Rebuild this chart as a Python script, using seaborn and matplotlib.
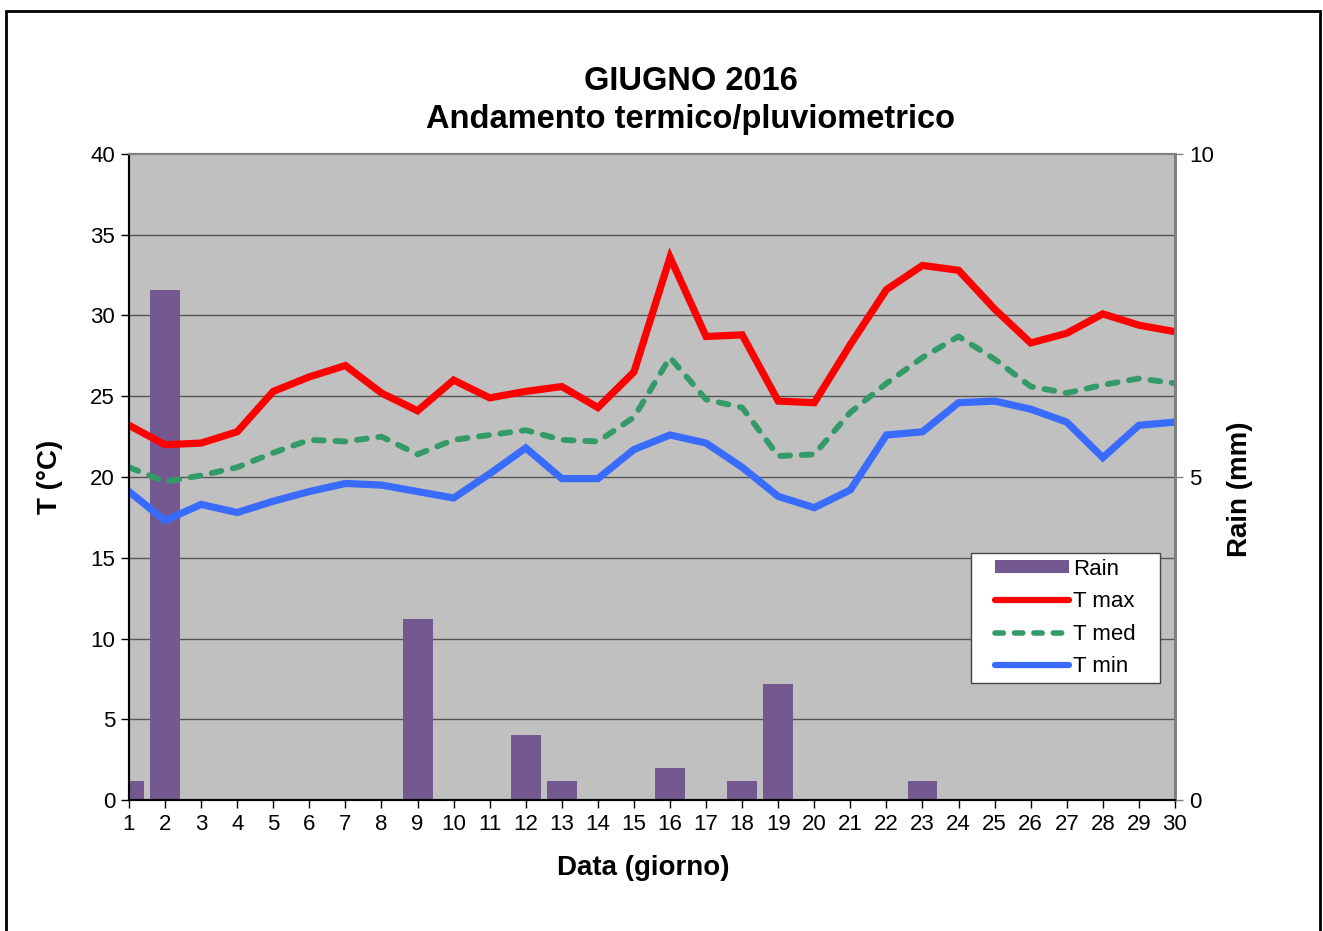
import matplotlib
matplotlib.use("Agg")
import matplotlib.pyplot as plt
from matplotlib.lines import Line2D
from matplotlib.patches import Patch, Rectangle
import numpy as np
import pandas as pd
import seaborn as sns

sns.set_theme(style="white")
plt.rcParams["font.family"] = ["Liberation Sans", "DejaVu Sans"]
plt.rcParams["text.color"] = "black"
plt.rcParams["axes.labelcolor"] = "black"

days = list(range(1, 31))
rain_mm = [0.3, 7.9, 0, 0, 0, 0, 0, 0, 2.8, 0,
           0, 1.0, 0.3, 0, 0, 0.5, 0, 0.3, 1.8, 0,
           0, 0, 0.3, 0, 0, 0, 0, 0, 0, 0]
t_max = [23.2, 22.0, 22.1, 22.8, 25.3, 26.2, 26.9, 25.2, 24.1, 26.0,
         24.9, 25.3, 25.6, 24.3, 26.5, 33.6, 28.7, 28.8, 24.7, 24.6,
         28.2, 31.6, 33.1, 32.8, 30.4, 28.3, 28.9, 30.1, 29.4, 29.0]
t_med = [20.6, 19.7, 20.1, 20.6, 21.5, 22.3, 22.2, 22.5, 21.4, 22.3,
         22.6, 22.9, 22.3, 22.2, 23.7, 27.4, 24.8, 24.3, 21.3, 21.4,
         24.0, 25.8, 27.4, 28.7, 27.3, 25.6, 25.2, 25.7, 26.1, 25.8]
t_min = [19.1, 17.3, 18.3, 17.8, 18.5, 19.1, 19.6, 19.5, 19.1, 18.7,
         20.2, 21.8, 19.9, 19.9, 21.7, 22.6, 22.1, 20.6, 18.8, 18.1,
         19.2, 22.6, 22.8, 24.6, 24.7, 24.2, 23.4, 21.2, 23.2, 23.4]

df = pd.DataFrame({"day": days, "rain": rain_mm,
                   "tmax": t_max, "tmed": t_med, "tmin": t_min})

C_RAIN = "#735990"
C_MAX = "#ff0000"
C_MED = "#349b68"
C_MIN = "#3a6bff"

fig = plt.figure(figsize=(13.23, 9.31), dpi=100)
fig.patch.set_facecolor("white")
ax_r = fig.add_axes([0.0975, 0.1407, 0.7906, 0.6939])
ax = ax_r.twinx()

# rain on the back axis (right scale), with the grey background and grid
ax_r.set_facecolor("#c0c0c0")
for v in np.arange(1.25, 10, 1.25):
    ax_r.axhline(v, color="#555555", lw=1.0, zorder=0)
sns.barplot(data=df, x="day", y="rain", native_scale=True, width=0.83,
            color=C_RAIN, saturation=1, edgecolor="none", ax=ax_r, zorder=2)
ax_r.set_ylim(0, 10)
ax_r.set_xlim(1, 30)
ax_r.yaxis.tick_right()
ax_r.set_yticks([0, 5, 10])
ax_r.set_xticks(days)
ax_r.set_xlabel("")
ax_r.set_ylabel("")

# temperatures on the front axis
ax.set_zorder(ax_r.get_zorder() + 1)
ax.patch.set_visible(False)
sns.lineplot(data=df, x="day", y="tmax", color=C_MAX, lw=5.2, ax=ax,
             solid_joinstyle="miter")
sns.lineplot(data=df, x="day", y="tmed", color=C_MED, lw=4.2, ax=ax,
             dashes=False, linestyle=(0, (1.7, 2.0)), dash_capstyle="round")
sns.lineplot(data=df, x="day", y="tmin", color=C_MIN, lw=5.2, ax=ax,
             solid_joinstyle="miter")
ax.set_ylim(0, 40)
ax.set_xlim(1, 30)
ax.yaxis.tick_left()
ax.set_yticks(range(0, 41, 5))
ax.set_xlabel("")
ax.set_ylabel("")

for a in (ax, ax_r):
    a.tick_params(axis="both", which="major", direction="out", length=6,
                  width=1, colors="black", labelsize=16, pad=4)
    a.grid(False)
ax_r.tick_params(axis="y", right=True, left=False, labelright=True,
                 labelleft=False, color="#808080")
ax.tick_params(axis="y", left=True, right=False, labelleft=True,
               labelright=False)
ax.tick_params(axis="x", bottom=False, labelbottom=False)
ax_r.tick_params(axis="x", bottom=True, labelsize=16)

for a in (ax, ax_r):
    a.spines["left"].set_color("black")
    a.spines["left"].set_linewidth(1.5)
    a.spines["bottom"].set_color("black")
    a.spines["bottom"].set_linewidth(1.5)
    a.spines["top"].set_color("#808080")
    a.spines["top"].set_linewidth(1.5)
    a.spines["right"].set_color("#808080")
    a.spines["right"].set_linewidth(2.0)

fig.text(0.522, 0.912, "GIUGNO 2016", ha="center", va="center",
         fontsize=23.5, fontweight="bold")
fig.text(0.522, 0.872, "Andamento termico/pluviometrico", ha="center",
         va="center", fontsize=23.5, fontweight="bold")
fig.text(0.038, 0.488, "T (°C)", rotation=90, ha="center", va="center",
         fontsize=20, fontweight="bold")
fig.text(0.937, 0.474, "Rain (mm)", rotation=90, ha="center", va="center",
         fontsize=20, fontweight="bold")
fig.text(0.486, 0.068, "Data (giorno)", ha="center", va="center",
         fontsize=20, fontweight="bold")

# legend box drawn separately so its padding matches the original
ax.add_patch(Rectangle((0.805, 0.1811), 0.1807, 0.2012, transform=ax.transAxes,
                       facecolor="white", edgecolor="#444444", lw=1.0,
                       zorder=4.5))
handles = [
    Patch(facecolor=C_RAIN, edgecolor="none"),
    Line2D([], [], color=C_MAX, lw=4.5, solid_capstyle="round"),
    Line2D([], [], color=C_MED, lw=4.0, linestyle=(0, (1.5, 2.0)),
           dash_capstyle="round"),
    Line2D([], [], color=C_MIN, lw=4.5, solid_capstyle="round"),
]
leg = ax.legend(handles, ["Rain", "T max", "T med", "T min"],
                loc="center", bbox_to_anchor=(0.8954, 0.2817),
                fontsize=16, frameon=False, handlelength=3.3,
                handleheight=0.5, handletextpad=0.2, labelspacing=0.52,
                borderpad=0, borderaxespad=0)

fig.patches.append(Rectangle((6 / 1323, -0.02), 1314 / 1323, 1 - 11 / 931 + 0.02,
                             transform=fig.transFigure, fill=False,
                             edgecolor="black", lw=2.0, zorder=10))

fig.savefig("out.png", dpi=100)
